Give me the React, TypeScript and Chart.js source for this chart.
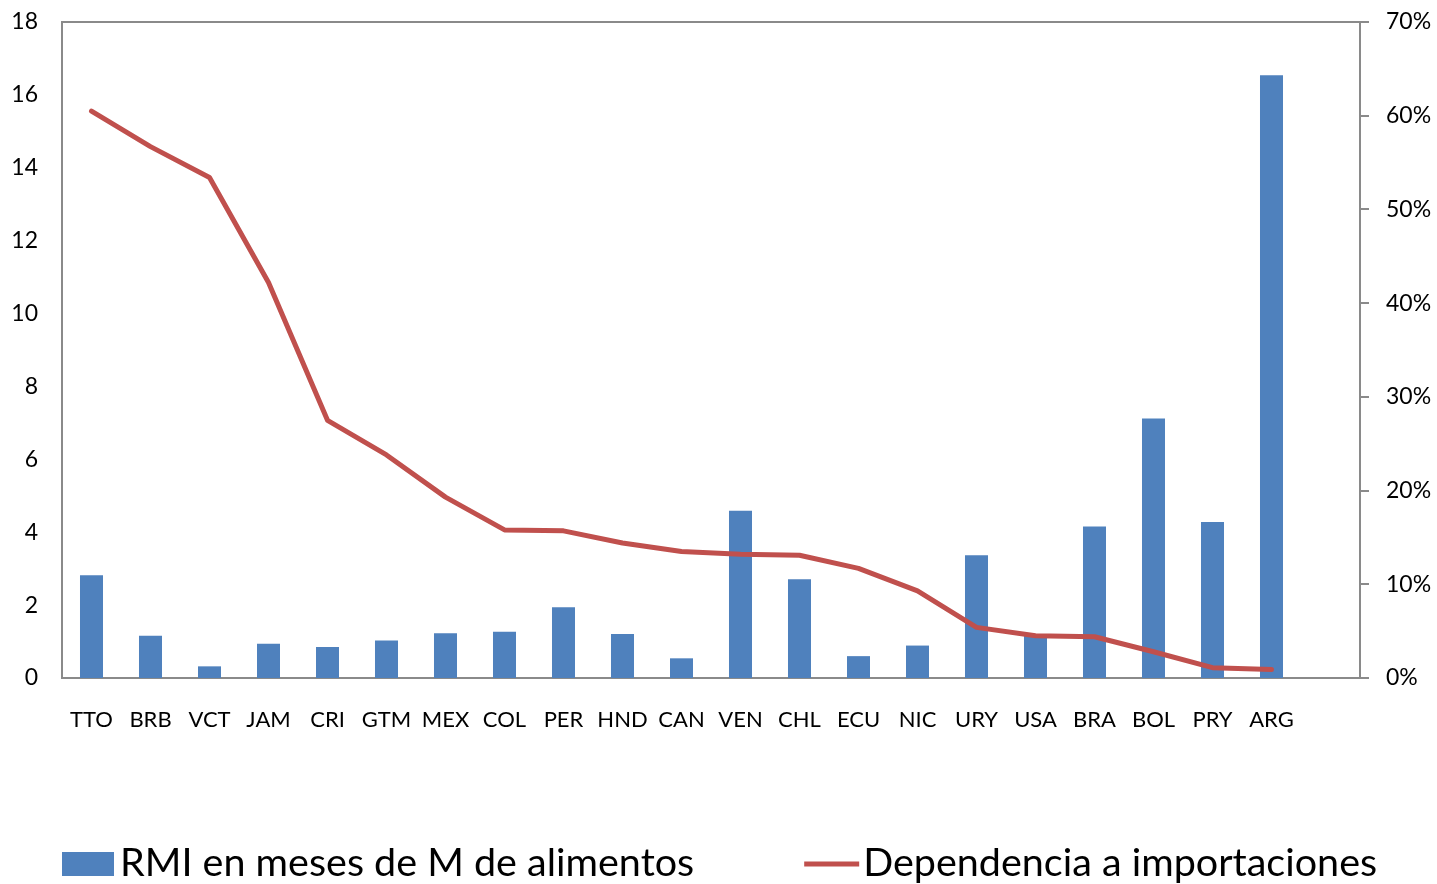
import React, { useEffect, useRef } from "react";
import { Chart, registerables } from "chart.js";

Chart.register(...registerables);

const categories = ["TTO", "BRB", "VCT", "JAM", "CRI", "GTM", "MEX", "COL", "PER", "HND", "CAN", "VEN", "CHL", "ECU", "NIC", "URY", "USA", "BRA", "BOL", "PRY", "ARG", ""];
const rmiMeses = [2.82, 1.16, 0.32, 0.94, 0.85, 1.03, 1.23, 1.27, 1.94, 1.21, 0.54, 4.59, 2.71, 0.6, 0.89, 3.37, 1.15, 4.16, 7.12, 4.28, 16.54, null];
const dependencia = [0.605, 0.567, 0.534, 0.422, 0.275, 0.238, 0.193, 0.158, 0.157, 0.144, 0.135, 0.132, 0.131, 0.117, 0.093, 0.054, 0.045, 0.044, 0.028, 0.011, 0.009, null];

const serieBarras = "RMI en meses de M de alimentos";
const serieLinea = "Dependencia a importaciones";

const FONT = "Lato, 'Open Sans', sans-serif";
const BLUE = "#4F81BD";
const RED = "#C0504D";
const AXIS = "#8a8a8a";

const framePlugin = {
  id: "frameAndLegend",
  beforeDatasetsDraw(chart: any) {
    const { ctx, chartArea } = chart;
    ctx.save();
    ctx.strokeStyle = AXIS;
    ctx.lineWidth = 2;
    ctx.beginPath();
    ctx.moveTo(chartArea.left, chartArea.top);
    ctx.lineTo(chartArea.right, chartArea.top);
    ctx.stroke();
    ctx.restore();
  },
  afterDraw(chart: any) {
    const { ctx, chartArea } = chart;
    const ds = chart.data.datasets;
    ctx.save();
    ctx.font = `39.5px ${FONT}`;
    ctx.textBaseline = "alphabetic";
    const base = 876;
    const mid = 864;
    const x0 = chartArea.left;
    ctx.fillStyle = ds[1].backgroundColor;
    ctx.fillRect(x0, mid - 12, 52, 24);
    ctx.fillStyle = "#000";
    ctx.fillText(ds[1].label, x0 + 58, base);
    const w1 = ctx.measureText(ds[1].label).width;
    const x1 = x0 + 58 + w1 + 110;
    ctx.strokeStyle = ds[0].borderColor;
    ctx.lineWidth = 5;
    ctx.beginPath();
    ctx.moveTo(x1, mid);
    ctx.lineTo(x1 + 55, mid);
    ctx.stroke();
    ctx.fillText(ds[0].label, x1 + 59, base);
    ctx.restore();
  },
};

export default function App() {
  const ref = useRef<HTMLCanvasElement | null>(null);

  useEffect(() => {
    if (!ref.current) return;
    const chart = new Chart(ref.current, {
      type: "bar",
      data: {
        labels: categories,
        datasets: [
          {
            type: "line",
            label: serieLinea,
            data: dependencia,
            yAxisID: "y2",
            borderColor: RED,
            backgroundColor: RED,
            borderWidth: 5,
            pointRadius: 0,
            tension: 0,
            borderCapStyle: "round",
            borderJoinStyle: "round",
            order: 0,
          } as any,
          {
            type: "bar",
            label: serieBarras,
            data: rmiMeses,
            yAxisID: "y",
            backgroundColor: BLUE,
            borderWidth: 0,
            categoryPercentage: 1,
            barPercentage: 0.39,
            order: 1,
          } as any,
        ],
      },
      options: {
        responsive: false,
        animation: false,
        layout: { padding: { top: 22, left: 0, right: 0, bottom: 0 } },
        plugins: {
          legend: { display: false },
          tooltip: { enabled: false },
        },
        scales: {
          x: {
            grid: { display: false, drawTicks: false },
            border: { display: true, color: AXIS, width: 2 },
            ticks: {
              font: { family: FONT, size: 22 },
              color: "#000",
              padding: 29,
              maxRotation: 0,
              autoSkip: false,
            },
            afterFit: (s: any) => {
              s.height = 206;
              s.paddingLeft = 0;
              s.paddingRight = 0;
            },
          },
          y: {
            position: "left",
            min: 0,
            max: 18,
            grid: { display: false, drawTicks: false },
            border: { display: true, color: AXIS, width: 2 },
            ticks: {
              stepSize: 2,
              font: { family: FONT, size: 23 },
              color: "#000",
              padding: 24,
            },
            afterFit: (s: any) => {
              s.width = 62;
              s.paddingTop = 0;
              s.paddingBottom = 0;
            },
          },
          y2: {
            position: "right",
            min: 0,
            max: 0.7,
            grid: { display: true, drawOnChartArea: false, drawTicks: true, tickLength: 9, color: AXIS, lineWidth: 2 },
            border: { display: true, color: AXIS, width: 2 },
            ticks: {
              stepSize: 0.1,
              font: { family: FONT, size: 23 },
              color: "#000",
              padding: 17,
              callback: (v: any) => `${Math.round(Number(v) * 100)}%`,
            },
            afterFit: (s: any) => {
              s.width = 77;
              s.paddingTop = 0;
              s.paddingBottom = 0;
            },
          },
        },
      },
      plugins: [framePlugin],
    });
    return () => chart.destroy();
  }, []);

  return (
    <div style={{ position: "absolute", left: 0, top: 0, width: 1437, height: 884 }}>
      <canvas ref={ref} width={1437} height={884} style={{ display: "block" }} />
    </div>
  );
}
